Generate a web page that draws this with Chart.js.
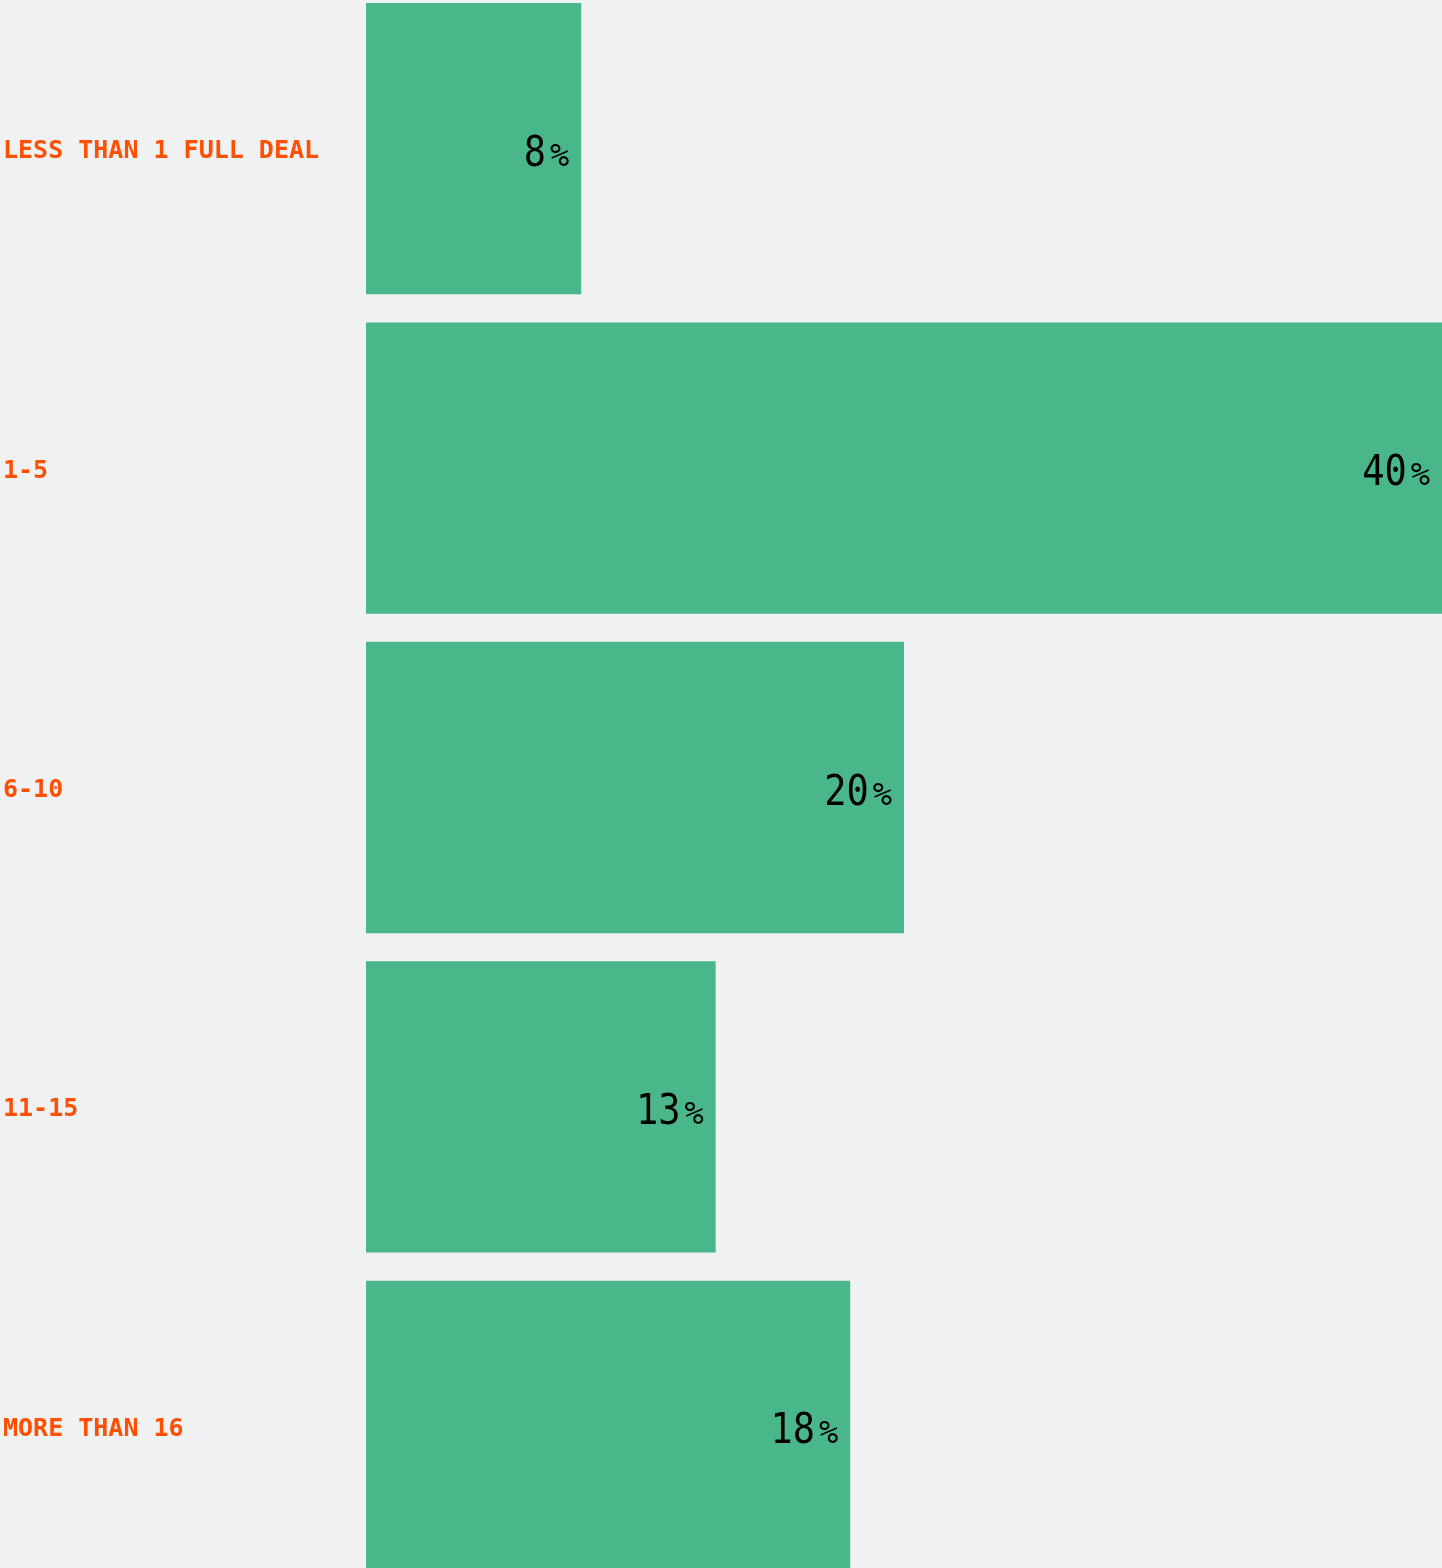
<!DOCTYPE html>
<html>
<head>
<meta charset="utf-8">
<script src="https://cdn.jsdelivr.net/npm/chart.js@4/dist/chart.umd.min.js"></script>
<style>
  html, body { margin: 0; padding: 0; background: #eff1f3; overflow: hidden; width: 1442px; height: 1568px; }
  #c { position: absolute; left: 0; top: -11px; width: 1442px; height: 1597px; display: block; }
</style>
</head>
<body>
<canvas id="c" width="1442" height="1597"></canvas>
<script>
const categories = ["LESS THAN 1 FULL DEAL", "1-5", "6-10", "11-15", "MORE THAN 16"];
const values = [8, 40, 20, 13, 18];
const valueSuffix = "%";

const valueLabels = {
  id: 'valueLabels',
  afterDatasetsDraw(chart) {
    const ctx = chart.ctx;
    const meta = chart.getDatasetMeta(0);
    ctx.save();
    ctx.fillStyle = '#000000';
    ctx.textBaseline = 'alphabetic';
    meta.data.forEach((bar, i) => {
      const num = String(values[i]);
      const baseline = bar.y + 17;
      const pctRight = bar.x - 12;
      ctx.font = '32px "DejaVu Sans Mono", monospace';
      ctx.textAlign = 'right';
      const pw = ctx.measureText(valueSuffix).width;
      ctx.fillText(valueSuffix, pctRight, baseline);
      ctx.save();
      ctx.translate(pctRight - pw - 4, baseline);
      ctx.scale(0.88, 1);
      ctx.font = '42px "DejaVu Sans Mono", monospace';
      ctx.textAlign = 'right';
      ctx.fillText(num, 0, 0);
      ctx.restore();
    });
    ctx.restore();
  }
};

new Chart(document.getElementById('c'), {
  type: 'bar',
  data: {
    labels: categories,
    datasets: [{
      data: values,
      backgroundColor: '#4ab78a',
      borderWidth: 0,
      barPercentage: 0.912,
      categoryPercentage: 1.0
    }]
  },
  options: {
    indexAxis: 'y',
    responsive: false,
    maintainAspectRatio: false,
    devicePixelRatio: 1,
    animation: false,
    layout: { padding: { left: 3, right: 0, top: 0, bottom: 0 } },
    plugins: { legend: { display: false }, tooltip: { enabled: false } },
    scales: {
      x: {
        display: false,
        min: 0,
        max: 40,
        grid: { display: false }
      },
      y: {
        grid: { display: false, drawTicks: false },
        border: { display: false },
        ticks: {
          crossAlign: 'far',
          color: '#ff4f00',
          padding: 0,
          labelOffset: 3,
          font: { family: '"DejaVu Sans Mono", monospace', size: 25, weight: 'bold' }
        },
        afterFit(scale) {
          scale.width = 363;
          scale.paddingTop = 0;
          scale.paddingBottom = 0;
        }
      }
    }
  },
  plugins: [valueLabels]
});
</script>
</body>
</html>
